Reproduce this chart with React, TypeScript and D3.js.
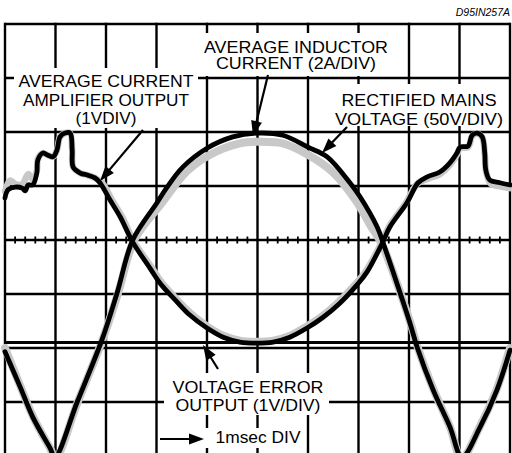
import React from "react";
import * as d3 from "d3";

// Time axis: 1 msec per division (10 divisions); vertical: 8 divisions, centre = 0
const timeDomain: [number, number] = [0, 10];
const divDomain: [number, number] = [-4, 4];
const majorTimes = d3.range(0, 11);
const majorDivs = d3.range(-4, 5);
const minorTimes = d3.range(1, 50).filter((i) => i % 5 !== 0).map((i) => i / 5);

// Average inductor current (black)
const inductorCurrent: [number, number][] = [
  [0, -2.07], [0.3, -2.72], [0.55, -3.28], [0.89, -3.85], [0.99, -4.02], [1.43, -3.0],
  [1.92, -1.85], [2.22, -0.98], [2.53, 0], [3.01, 0.69], [3.21, 0.98], [3.52, 1.35],
  [4.0, 1.7], [4.51, 1.91], [4.99, 1.98], [5.5, 1.94], [6.0, 1.72], [6.38, 1.54],
  [6.83, 1.06], [7.03, 0.8], [7.37, 0.24], [7.49, -0.06], [7.76, -0.8], [8.02, -1.54],
  [8.16, -1.98], [8.48, -2.78], [8.81, -3.46], [9.05, -4.02], [9.41, -3.46], [9.74, -2.78],
  [10, -2.04],
];

// Rectified mains voltage (grey)
const rectifiedMains: [number, number][] = [
  [0, -2.0], [0.3, -2.7], [0.57, -3.3], [0.9, -3.87], [1.0, -4.04], [1.44, -3.0],
  [1.93, -1.85], [2.24, -0.98], [2.56, 0], [3.1, 0.68], [3.6, 1.27], [4.06, 1.58],
  [4.65, 1.79], [5.01, 1.82], [5.5, 1.79], [6.0, 1.58], [6.5, 1.25], [6.97, 0.7],
  [7.23, 0.28], [7.46, -0.07], [7.76, -0.8], [8.03, -1.54], [8.17, -1.98], [8.49, -2.78],
  [8.81, -3.46], [9.04, -4.04], [9.4, -3.46], [9.73, -2.78], [10, -2.0],
];

// Average current amplifier output (black)
const ampOutput: [number, number][] = [
  [0, 0.78], [0.06, 0.93], [0.2, 0.98], [0.34, 0.96], [0.4, 0.91], [0.46, 1.02],
  [0.55, 1.02], [0.63, 1.24], [0.65, 1.48], [0.75, 1.61], [0.85, 1.57], [0.95, 1.54],
  [1.03, 1.67], [1.09, 1.91], [1.19, 1.98], [1.29, 1.98], [1.33, 1.67], [1.35, 1.35],
  [1.49, 1.24], [1.64, 1.2], [1.78, 1.15], [1.88, 1.06], [2.08, 0.74], [2.28, 0.43],
  [2.53, -0.04], [2.87, -0.52], [3.07, -0.8], [3.41, -1.15], [3.66, -1.39], [4.0, -1.63],
  [4.32, -1.8], [4.65, -1.89], [4.99, -1.91], [5.31, -1.89], [5.64, -1.8], [5.98, -1.63],
  [6.3, -1.43], [6.63, -1.17], [6.97, -0.83], [7.17, -0.59], [7.47, -0.06], [7.62, 0.24],
  [7.96, 0.69], [8.18, 1.06], [8.36, 1.17], [8.61, 1.26], [8.81, 1.43], [8.95, 1.61],
  [9.01, 1.72], [9.17, 1.74], [9.25, 1.94], [9.35, 1.98], [9.45, 1.91], [9.5, 1.61],
  [9.52, 1.3], [9.6, 1.11], [9.8, 1.06], [10, 1.02],
];

// Grey persistence of the amplifier output
const ampOutputShadow: [number, number][] = [
  [0, 0.9], [0.1, 1.1], [0.22, 1.03], [0.34, 1.03], [0.46, 1.22], [0.55, 1.12],
  [0.63, 1.28], [0.65, 1.5], [0.75, 1.61], [0.85, 1.57], [0.95, 1.54], [1.03, 1.67],
  [1.09, 1.91], [1.19, 1.98], [1.29, 1.98], [1.33, 1.67], [1.35, 1.35], [1.49, 1.24],
  [1.64, 1.2], [1.8, 1.14], [1.92, 1.06], [2.12, 0.74], [2.32, 0.43], [2.56, -0.04],
  [2.9, -0.5], [3.1, -0.78], [3.43, -1.12], [3.68, -1.35], [4.01, -1.59], [4.33, -1.76],
  [4.65, -1.85], [4.99, -1.87], [5.31, -1.85], [5.64, -1.76], [5.97, -1.59], [6.29, -1.39],
  [6.61, -1.13], [6.95, -0.8], [7.15, -0.57], [7.45, -0.06], [7.6, 0.24], [7.94, 0.69],
  [8.16, 1.04], [8.36, 1.13], [8.61, 1.22], [8.81, 1.39], [8.95, 1.58], [9.01, 1.7],
  [9.17, 1.72], [9.25, 1.92], [9.35, 1.97], [9.45, 1.9], [9.5, 1.6], [9.53, 1.25],
  [9.62, 1.04], [9.82, 0.99], [10, 0.96],
];

// Voltage error output (flat)
const voltageError: [number, number][] = [[0, -1.9], [10, -1.9]];

const labels = [
  { lines: ["AVERAGE INDUCTOR", "CURRENT (2A/DIV)"], cx: 296, y0: 53, dy: 16, widths: [184, 160], box: [200, 33, 192, 43] },
  { lines: ["AVERAGE CURRENT", "AMPLIFIER OUTPUT", "(1VDIV)"], cx: 106, y0: 87, dy: 18.7, widths: [175, 166, 61], box: [14, 68, 184, 60] },
  { lines: ["RECTIFIED MAINS", "VOLTAGE (50V/DIV)"], cx: 419, y0: 106, dy: 18.7, widths: [155, 168], box: [332, 84, 174, 42] },
  { lines: ["VOLTAGE ERROR", "OUTPUT (1V/DIV)"], cx: 248, y0: 393, dy: 17.5, widths: [151, 145], box: [164, 373, 165, 42] },
  { lines: ["1msec DIV"], cx: 258, y0: 443, dy: 0, widths: [85], box: [160, 428, 146, 20] },
];

const arrows = [
  [268, 75, 253, 136],
  [143, 130, 100, 181],
  [347, 127, 322, 153],
  [218, 369, 203, 345],
  [160, 439, 204, 439],
];

export default function App() {
  const W = 512, H = 453;
  const x = d3.scaleLinear().domain(timeDomain).range([5, 510]);
  const y = d3.scaleLinear().domain(divDomain).range([456, 24]);
  const line = d3
    .line<[number, number]>()
    .x((d) => x(d[0]))
    .y((d) => y(d[1]))
    .curve(d3.curveCatmullRom.alpha(0.5));
  const font = "'Liberation Sans', Arial, Helvetica, sans-serif";

  const arrowHead = (x1: number, y1: number, x2: number, y2: number) => {
    const ang = Math.atan2(y2 - y1, x2 - x1);
    const L = 15, w = 5.5;
    const bx = x2 - L * Math.cos(ang), by = y2 - L * Math.sin(ang);
    const px = -Math.sin(ang) * w, py = Math.cos(ang) * w;
    return `M${x2},${y2}L${bx + px},${by + py}L${bx - px},${by - py}Z`;
  };

  return (
    <svg width={W} height={H} style={{ position: "absolute", left: 0, top: 0, background: "#fff" }}>
      <rect x={0} y={0} width={W} height={H} fill="#fff" />
      {/* grid */}
      <g stroke="#000" strokeWidth={2.4}>
        {majorTimes.map((t) => (
          <line key={"vx" + t} x1={x(t)} x2={x(t)} y1={y(4) - 1.2} y2={H} />
        ))}
        {majorDivs.map((d) => (
          <line key={"hy" + d} x1={x(0)} x2={x(10)} y1={y(d)} y2={y(d)} />
        ))}
        {minorTimes.map((t) => (
          <line key={"mt" + t} x1={x(t)} x2={x(t)} y1={y(0) - 3.5} y2={y(0) + 3.5} strokeWidth={1.8} />
        ))}
      </g>
      {/* label backgrounds */}
      {labels.map((l, i) => (
        <rect key={"b" + i} x={l.box[0]} y={l.box[1]} width={l.box[2]} height={l.box[3]} fill="#fff" />
      ))}
      {/* traces */}
      <g fill="none" strokeLinejoin="round" strokeLinecap="round">
        <path d={line(rectifiedMains) || ""} stroke="#c8c8c8" strokeWidth={8} />
        <path d={line(ampOutputShadow) || ""} stroke="#c8c8c8" strokeWidth={6.5} />
        <path d={line(inductorCurrent) || ""} stroke="#000" strokeWidth={4.8} />
        <path d={line(ampOutput) || ""} stroke="#000" strokeWidth={4.8} />
        <path d={line(voltageError) || ""} stroke="#000" strokeWidth={3} strokeLinecap="butt" />
      </g>
      {/* labels */}
      <g fontFamily={font} fontSize={16} fill="#000" textAnchor="middle">
        {labels.map((l, i) =>
          l.lines.map((s, j) => (
            <text
              key={i + "-" + j}
              x={l.cx}
              y={l.y0 + j * l.dy}
              textLength={l.widths[j]}
              lengthAdjust="spacingAndGlyphs"
            >
              {s}
            </text>
          ))
        )}
      </g>
      <text x={510} y={16} fontFamily={font} fontSize={10.5} fontStyle="italic" textAnchor="end">
        D95IN257A
      </text>
      {/* arrows */}
      <g>
        {arrows.map((a, i) => {
          const ang = Math.atan2(a[3] - a[1], a[2] - a[0]);
          return (
            <g key={"a" + i}>
              <line x1={a[0]} y1={a[1]} x2={a[2] - 10 * Math.cos(ang)} y2={a[3] - 10 * Math.sin(ang)} stroke="#000" strokeWidth={2.2} />
              <path d={arrowHead(a[0], a[1], a[2], a[3])} fill="#000" />
            </g>
          );
        })}
      </g>
    </svg>
  );
}
